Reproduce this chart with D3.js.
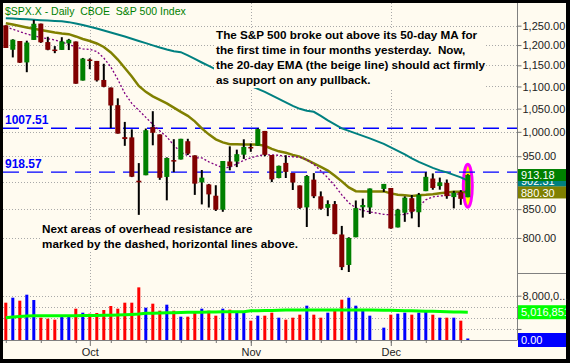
<!DOCTYPE html>
<html>
<head>
<meta charset="utf-8">
<title>$SPX.X - Daily</title>
<script src="https://cdn.jsdelivr.net/npm/d3@7"></script>
<style>
  body { margin: 0; background: #000; }
  svg { display: block; font-family: "Liberation Sans", Arial, sans-serif; }
</style>
</head>
<body>
<script>

// one slot per weekday, 11/27 is the Thanksgiving holiday (empty slot)
const dates = [
  "9/15","9/16","9/17","9/18","9/19","9/22","9/23","9/24","9/25","9/26","9/29","9/30",
  "10/1","10/2","10/3","10/6","10/7","10/8","10/9","10/10","10/13","10/14","10/15","10/16","10/17",
  "10/20","10/21","10/22","10/23","10/24","10/27","10/28","10/29","10/30","10/31",
  "11/3","11/4","11/5","11/6","11/7","11/10","11/11","11/12","11/13","11/14",
  "11/17","11/18","11/19","11/20","11/21","11/24","11/25","11/26","11/27","11/28",
  "12/1","12/2","12/3","12/4","12/5","12/8","12/9","12/10","12/11","12/12","12/15","12/16"
];

const opens = [
  1250.92,1188.31,1210.34,1157.08,1213.11,1255.37,1207.61,1188.79,1187.87,1204.47,1209.07,1113.78,
  1164.17,1160.64,1115.16,1097.56,1057.60,988.91,988.42,902.31,912.75,1009.97,994.60,909.53,942.29,
  943.51,980.40,951.67,899.08,895.22,874.28,848.92,939.51,939.38,953.11,
  968.67,971.31,1001.84,952.40,907.44,936.75,917.15,893.39,853.13,904.36,
  873.23,852.34,859.03,805.87,755.84,801.20,853.40,852.90,null,886.89,
  888.61,817.94,843.60,869.75,844.43,882.71,906.48,892.17,898.35,871.79,881.07,871.53
];
const highs = [
  1250.92,1214.84,1210.34,1211.14,1265.12,1255.37,1221.15,1197.41,1220.03,1215.77,1209.07,1168.03,
  1167.03,1160.64,1153.82,1097.56,1072.91,1021.06,1005.25,936.36,1006.93,1044.31,994.60,947.71,984.64,
  985.40,985.44,951.67,922.83,896.30,893.78,940.51,969.97,963.23,984.38,
  975.57,1007.51,1001.84,952.40,931.46,951.95,917.15,893.39,913.01,916.88,
  882.29,865.90,864.57,820.52,801.20,865.60,868.94,887.68,null,896.25,
  888.61,850.54,873.12,875.60,879.42,918.57,916.26,908.27,904.63,883.24,884.63,914.66
];
const lows = [
  1192.70,1169.28,1155.88,1133.50,1213.11,1205.61,1187.06,1179.79,1187.87,1187.54,1106.39,1113.78,
  1140.77,1111.43,1098.14,1007.97,996.23,970.97,909.19,839.80,912.75,972.07,903.99,865.83,918.74,
  943.51,952.47,875.81,858.44,852.85,846.75,845.27,922.26,928.50,944.59,
  958.82,971.31,949.86,899.73,906.90,907.47,884.90,850.48,818.69,869.88,
  848.98,837.54,806.18,747.78,741.02,801.20,834.99,841.37,null,881.21,
  815.69,817.94,827.60,833.60,818.41,882.71,885.38,885.45,868.73,851.35,857.72,871.53
];
const closes = [
  1192.70,1213.60,1156.39,1206.51,1255.08,1207.09,1188.22,1185.87,1209.18,1213.27,1106.39,1166.36,
  1161.06,1114.28,1099.23,1056.89,996.23,984.94,909.92,899.22,1003.35,998.01,907.84,946.43,940.55,
  985.40,955.05,896.78,908.11,876.77,848.92,940.51,930.09,954.09,968.75,
  966.30,1005.75,952.77,904.88,930.99,919.21,898.95,852.30,911.29,873.29,
  850.75,859.12,806.58,752.44,800.03,851.81,857.39,887.68,null,896.24,
  816.21,848.81,870.74,845.22,876.07,909.70,888.67,899.24,873.59,879.73,868.57,913.18
];

// volume, millions of shares
const volumes = [
  6738,7641,7100,8182,7220,4031,3851,3670,4212,4212,5656,4934,
  4753,4874,5415,6137,5656,6738,6738,9506,5836,6558,5295,6378,5295,
  4212,4212,4874,5656,5295,4392,5656,5475,4934,4934,
  3490,4392,4392,4934,4031,3670,4031,4573,6198,4573,
  4031,4934,5235,7280,7641,6198,5295,4392,null,2226,
  4573,4753,4934,4573,4934,5114,4573,4031,4031,4031,3490,0
];

// moving averages
const sma50 = [
  1269.9,1268.8,1267.8,1266.7,1265.6,1264.6,1263.5,1262.5,1261.4,1259.3,1255.8,1251.9,
  1247.2,1242.7,1237.5,1232.3,1227.1,1222.0,1216.1,1210.4,1204.9,1199.3,1193.8,1188.8,1184.5,
  1182.3,1174.1,1165.5,1156.9,1148.5,1140.1,1131.7,1123.5,1115.3,1108.3,
  1101.3,1094.4,1087.6,1079.6,1071.7,1063.9,1056.1,1049.5,1045.1,1042.9,
  1034.2,1024.4,1015.8,1007.3,1002.0,996.8,991.6,986.4,null,975.0,
  967.9,960.8,953.8,945.8,938.9,932.9,927.0,922.2,918.3,913.5,908.7,902.31
];
const ema20 = [
  1256.6,1253.2,1249.2,1245.3,1241.9,1238.8,1235.4,1232.3,1229.7,1227.9,1222.0,1215.6,
  1210.4,1204.1,1195.3,1181.5,1164.2,1143.7,1123.5,1101.3,1087.6,1077.3,1069.5,1061.6,1052.1,
  1042.9,1034.2,1022.2,1007.3,994.7,984.3,978.1,974.4,974.0,973.8,
  973.6,973.4,971.0,964.9,959.8,956.8,952.7,949.3,942.8,935.8,
  929.0,921.8,911.6,901.1,889.8,882.7,882.0,882.3,null,882.3,
  878.6,875.9,875.0,874.0,875.0,875.9,877.2,879.0,880.1,881.4,881.4,880.30
];
const sma10 = [
  1246.6,1240.6,1234.4,1228.4,1223.3,1219.4,1216.1,1213.0,1207.9,1201.6,1195.3,1190.3,
  1189.0,1184.0,1167.9,1146.1,1116.5,1084.2,1061.6,1046.2,1030.9,1015.8,1002.0,989.5,972.0,
  958.2,951.1,946.8,946.8,938.9,932.9,927.0,928.0,934.9,941.8,
  946.8,950.8,952.7,952.7,951.8,949.8,948.9,947.9,942.8,933.9,
  921.2,907.9,892.9,875.9,861.3,852.2,847.4,845.1,null,840.7,
  839.8,839.8,840.7,844.2,854.9,866.7,872.1,873.7,875.0,875.9,878.6,884.8
];
const volAvg = [
  4025,4150,4250,4330,4386,4386,4390,4390,4395,4400,4400,4410,
  4420,4440,4460,4480,4510,4560,4620,4700,4819,4850,4880,4910,4940,
  4970,5000,5010,5030,5050,5070,5090,5100,5108,5108,
  5289,5300,5320,5340,5370,5400,5415,5415,5415,5415,
  5415,5415,5415,5415,5415,5415,5415,5415,null,5380,
  5350,5320,5290,5260,5230,5200,5170,5130,5100,5070,5040,5016.851
];

const priceTicks = [800, 850, 900, 950, 1000, 1050, 1100, 1150, 1200, 1250];
const volTicks = [2000, 4000, 6000, 8000];
const resistance = [1007.51, 918.57];
const weekTicks = ["9/15","9/22","9/29","10/6","10/13","10/20","10/27","11/3","11/10","11/17","11/24","12/1","12/8","12/15"];
const monthTicks = ["10/1","11/3","12/1"];
const monthNames = ["Oct","Nov","Dec"];

const title = "$SPX.X - Daily  CBOE  S&P 500 Index";
const noteTop = [
  "The S&P 500 broke out above its 50-day MA for",
  "the first time in four months yesterday.  Now,",
  "the 20-day EMA (the beige line) should act firmly",
  "as support on any pullback."
];
const noteBottom = [
  "Next areas of overhead resistance are",
  "marked by the dashed, horizontal lines above."
];

const bars = dates.map((d, i) => ({
  date: d, o: opens[i], h: highs[i], l: lows[i], c: closes[i], v: volumes[i],
  ma50: sma50[i], ema: ema20[i], ma10: sma10[i], va: volAvg[i]
}));
const traded = bars.filter(b => b.o != null);
const last = bars[bars.length - 1];

// layout
const width = 570, height = 363;
const plotL = 3, plotR = 517, priceTop = 3, priceBot = 272, volBot = 340;
const bg = "#FFFBF0";

const svg = d3.select("body").append("svg")
  .attr("width", width)
  .attr("height", height);

svg.append("rect").attr("width", width).attr("height", height).attr("fill", "#000");
svg.append("rect").attr("x", 3).attr("y", 3).attr("width", 563).attr("height", 356).attr("fill", bg);

const x = d3.scalePoint().domain(dates).range([5.8, 467.8]);
const y = d3.scaleLog().domain([743.2, 1311]).range([273, 3]);
const yv = d3.scaleLinear().domain([0, 8000]).range([volBot, 295.7]);

svg.append("clipPath").attr("id", "pclip")
  .append("rect").attr("x", plotL).attr("y", priceTop).attr("width", plotR - plotL).attr("height", priceBot - priceTop);
svg.append("clipPath").attr("id", "bclip")
  .append("rect").attr("x", 518).attr("y", 0).attr("width", 48).attr("height", height);

// grid
const grid = svg.append("g")
  .attr("stroke", "#a9a9a9")
  .attr("stroke-width", 1)
  .attr("stroke-dasharray", "1,2");

grid.selectAll(".gp").data(priceTicks).join("line")
  .attr("x1", plotL).attr("x2", plotR)
  .attr("y1", d => Math.round(y(d)) + 0.5).attr("y2", d => Math.round(y(d)) + 0.5);

grid.selectAll(".gv").data(volTicks).join("line")
  .attr("x1", plotL).attr("x2", plotR)
  .attr("y1", d => Math.round(yv(d)) + 0.5).attr("y2", d => Math.round(yv(d)) + 0.5);

grid.selectAll(".gm").data(monthTicks).join("line")
  .attr("x1", d => Math.round(x(d)) + 0.5).attr("x2", d => Math.round(x(d)) + 0.5)
  .attr("y1", priceTop).attr("y2", volBot);

// highlight around the breakout bar
svg.append("ellipse")
  .attr("cx", x(last.date))
  .attr("cy", (y(last.h) + y(last.l)) / 2)
  .attr("rx", 4.5).attr("ry", 21.5)
  .attr("fill", "#FFFF00")
  .attr("stroke", "#FF00FF")
  .attr("stroke-width", 3);

// resistance lines
svg.selectAll(".res").data(resistance).join("line")
  .attr("x1", plotL).attr("x2", plotR)
  .attr("y1", d => y(d)).attr("y2", d => y(d))
  .attr("stroke", "#0000FF")
  .attr("stroke-width", 1.3)
  .attr("stroke-dasharray", "16,8");

svg.selectAll(".resLabel").data(resistance).join("text")
  .attr("x", 5)
  .attr("y", d => y(d) - 4.5)
  .attr("fill", "#0000FF")
  .attr("font-size", 12)
  .attr("font-weight", "bold")
  .text(d => d.toFixed(2));

// moving averages
const price = svg.append("g").attr("clip-path", "url(#pclip)");
function maLine(key) {
  return d3.line().x(d => x(d.date)).y(d => y(d[key]))(bars.filter(d => d[key] != null));
}
price.append("path").attr("d", maLine("ma50"))
  .attr("fill", "none").attr("stroke", "#008080").attr("stroke-width", 2);
price.append("path").attr("d", maLine("ema"))
  .attr("fill", "none").attr("stroke", "#808000").attr("stroke-width", 2.5);
price.append("path").attr("d", maLine("ma10"))
  .attr("fill", "none").attr("stroke", "#800080").attr("stroke-width", 1.3)
  .attr("stroke-dasharray", "2,2");

// candles
price.selectAll(".wick").data(traded).join("line")
  .attr("x1", d => x(d.date)).attr("x2", d => x(d.date))
  .attr("y1", d => y(d.h)).attr("y2", d => y(d.l))
  .attr("stroke", "#000").attr("stroke-width", 2);

price.selectAll(".body").data(traded).join("rect")
  .attr("x", d => x(d.date) - 2.5)
  .attr("width", 5)
  .attr("y", d => y(Math.max(d.o, d.c)))
  .attr("height", d => Math.max(1.5, Math.abs(y(d.o) - y(d.c))))
  .attr("fill", d => d.c >= d.o ? "#008000" : "#800000");

// volume
svg.selectAll(".vol").data(traded).join("rect")
  .attr("x", d => x(d.date) - 1.5)
  .attr("width", 3)
  .attr("y", d => d.v > 0 ? yv(d.v) : volBot - 1.5)
  .attr("height", d => d.v > 0 ? volBot - yv(d.v) : 1.5)
  .attr("fill", d => d.c >= d.o ? "#0000FF" : "#FF0000");

svg.append("path")
  .attr("d", d3.line().x(d => x(d.date)).y(d => yv(d.va))(bars.filter(d => d.va != null)))
  .attr("fill", "none").attr("stroke", "#00FF00").attr("stroke-width", 3);

// text notes with an opaque background
function note(lines, x0, y0, step, box) {
  svg.append("rect")
    .attr("x", box[0]).attr("y", box[1]).attr("width", box[2]).attr("height", box[3])
    .attr("fill", bg);
  svg.append("g").selectAll("text").data(lines).join("text")
    .attr("x", x0)
    .attr("y", (d, i) => y0 + i * step)
    .attr("font-size", 11.7)
    .attr("font-weight", "bold")
    .attr("fill", "#000")
    .style("white-space", "pre")
    .text(d => d);
}
note(noteTop, 216, 39.3, 14.8, [214, 28, 271, 60]);
note(noteBottom, 42, 232.5, 15.2, [40, 222, 262, 29]);

svg.append("text")
  .attr("x", 5).attr("y", 15)
  .attr("fill", "#008000")
  .attr("font-size", 10.5)
  .style("white-space", "pre")
  .text(title);

// frame lines
svg.append("line").attr("x1", plotR + 0.5).attr("x2", plotR + 0.5).attr("y1", 3).attr("y2", volBot)
  .attr("stroke", "#808080");
svg.append("line").attr("x1", plotL).attr("x2", plotR + 0.5).attr("y1", volBot + 0.5).attr("y2", volBot + 0.5)
  .attr("stroke", "#808080");
svg.append("line").attr("x1", plotR).attr("x2", 566).attr("y1", 273.5).attr("y2", 273.5)
  .attr("stroke", "#808080");

// right price axis
const yAxis = svg.append("g")
  .attr("transform", `translate(${plotR + 0.5},0)`)
  .call(d3.axisRight(y).tickValues(priceTicks).tickSize(4).tickPadding(1).tickFormat(d3.format(",.2f")));
const volFmt = d => {
  const s = d3.format(",")(Math.round(d * 1000));
  return s.length > 8 ? s.slice(0, 7) + "..." : s;
};
const vAxis = svg.append("g")
  .attr("transform", `translate(${plotR + 0.5},0)`)
  .call(d3.axisRight(yv).tickValues(volTicks).tickSize(4).tickPadding(1)
    .tickFormat(d => d === 8000 ? volFmt(d) : ""));

// bottom date axis
const wAxis = svg.append("g")
  .attr("transform", `translate(0,${volBot})`)
  .call(d3.axisBottom(x).tickValues(weekTicks).tickSize(3).tickFormat(""));
const mAxis = svg.append("g")
  .attr("transform", `translate(0,${volBot})`)
  .call(d3.axisBottom(x).tickValues(monthTicks).tickSize(6).tickPadding(2)
    .tickFormat((d, i) => monthNames[i]));

[yAxis, vAxis, wAxis, mAxis].forEach(g => {
  g.select(".domain").remove();
  g.selectAll(".tick line").attr("stroke", "#707070");
  g.selectAll(".tick text")
    .attr("fill", "#222")
    .attr("font-size", 11)
    .attr("font-family", "Liberation Sans, Arial, sans-serif");
});

// last value boxes (text clipped to the box, as in the original)
const priceBoxes = [
  { v: last.ma50, fill: "#008080", label: d3.format(".2f")(last.ma50) },
  { v: last.c, fill: "#008000", label: d3.format(".2f")(last.c) },
  { v: last.ema, fill: "#808000", label: d3.format(".2f")(last.ema) }
];
const volBoxes = [
  { v: last.va, fill: "#00FF00", label: d3.format(",")(Math.round(last.va * 1000)) },
  { v: last.v, fill: "#0000FF", label: d3.format(".2f")(last.v) }
];

const boxG = svg.append("g").attr("clip-path", "url(#bclip)");
priceBoxes.forEach(b => {
  boxG.append("rect").attr("x", 518).attr("y", y(b.v) - 6).attr("width", 48).attr("height", 12)
    .attr("fill", b.fill);
  boxG.append("text").attr("x", 521).attr("y", y(b.v) + 4.2)
    .attr("fill", "#fff").attr("font-size", 11).text(b.label);
});
volBoxes.forEach(b => {
  boxG.append("rect").attr("x", 518).attr("y", yv(b.v) - 7).attr("width", 48).attr("height", 14)
    .attr("fill", b.fill);
  boxG.append("text").attr("x", 521).attr("y", yv(b.v) + 4.2)
    .attr("fill", "#fff").attr("font-size", 11).text(b.label);
});

</script>
</body>
</html>
